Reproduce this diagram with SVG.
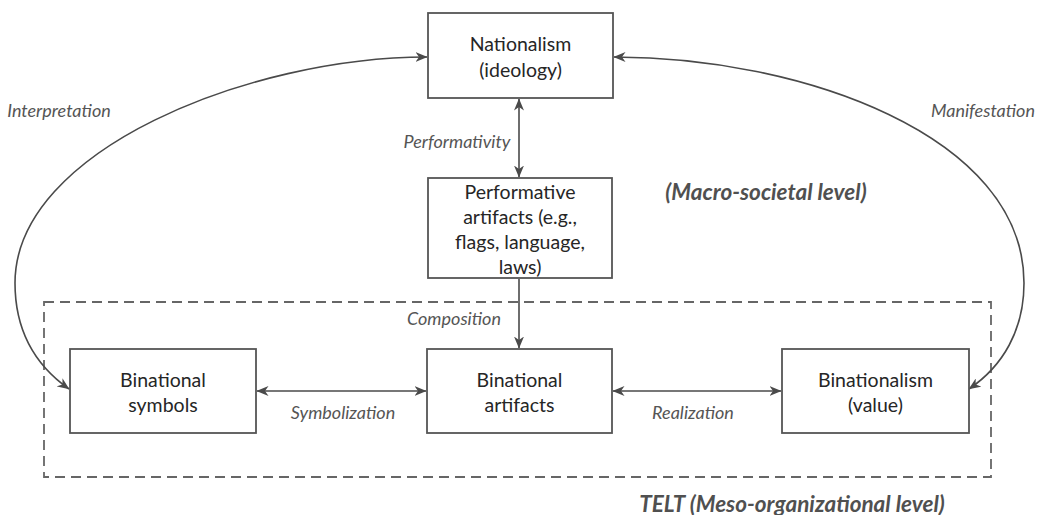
<svg xmlns="http://www.w3.org/2000/svg" width="1047" height="515" viewBox="0 0 1047 515">
<style>
.box{fill:#fff;stroke:#555;stroke-width:1.8}
.t{font-family:Lato,"Open Sans","Liberation Sans",sans-serif;font-size:19.5px;fill:#262626;text-anchor:middle}
.lab{font-family:Lato,"Open Sans","Liberation Sans",sans-serif;font-size:18px;font-style:italic;fill:#555;text-anchor:middle}
.lvl{font-family:Lato,"Open Sans","Liberation Sans",sans-serif;font-size:22.5px;font-style:italic;font-weight:bold;fill:#505050;text-anchor:middle}
.c{fill:none;stroke:#4a4a4a;stroke-width:1.6}
</style>
<defs>
<marker id="ah" viewBox="0 0 12 10" refX="11.5" refY="5" markerWidth="12" markerHeight="10" markerUnits="userSpaceOnUse" orient="auto-start-reverse">
<path d="M0,0 L12,5 L0,10 L3.5,5 z" fill="#4a4a4a"/>
</marker>
</defs>
<rect x="44" y="302" width="947" height="175" fill="none" stroke="#666" stroke-width="1.8" stroke-dasharray="10 6"/>
<g id="connectors">
<path class="c" d="M519,99 L519,177" marker-start="url(#ah)" marker-end="url(#ah)"/>
<path class="c" d="M519,279 L519,348" marker-end="url(#ah)"/>
<path class="c" d="M257,391 L426,391" marker-start="url(#ah)" marker-end="url(#ah)"/>
<path class="c" d="M613,391 L781,391" marker-start="url(#ah)" marker-end="url(#ah)"/>
<path class="c" d="M427,57 C250,57 15,150 15,283 C15,330 35,365 69,389" marker-start="url(#ah)" marker-end="url(#ah)"/>
<path class="c" d="M614,57 C800,57 1024,135 1024,283 C1024,330 1003,366 969,389" marker-start="url(#ah)" marker-end="url(#ah)"/>
</g>
<g id="nationalism">
<rect class="box" x="428" y="13" width="185" height="85"/>
<text class="t" x="520.5" y="51">Nationalism</text>
<text class="t" x="520.5" y="77">(ideology)</text>
</g>
<g id="performative">
<rect class="box" x="428" y="178" width="184" height="100"/>
<text class="t" x="520" y="199">Performative</text>
<text class="t" x="520" y="224">artifacts (e.g.,</text>
<text class="t" x="520" y="249">flags, language,</text>
<text class="t" x="520" y="274">laws)</text>
</g>
<g id="symbols">
<rect class="box" x="70" y="349" width="186" height="84"/>
<text class="t" x="163" y="387">Binational</text>
<text class="t" x="163" y="412">symbols</text>
</g>
<g id="artifacts">
<rect class="box" x="427" y="349" width="185" height="84"/>
<text class="t" x="519.5" y="387">Binational</text>
<text class="t" x="519.5" y="412">artifacts</text>
</g>
<g id="binationalism">
<rect class="box" x="782" y="349" width="187" height="84"/>
<text class="t" x="875.5" y="387">Binationalism</text>
<text class="t" x="875.5" y="412">(value)</text>
</g>
<g id="labels">
<text class="lab" x="59" y="117">Interpretation</text>
<text class="lab" x="983" y="117">Manifestation</text>
<text class="lab" x="457" y="148">Performativity</text>
<text class="lab" x="454" y="325">Composition</text>
<text class="lab" x="343" y="419">Symbolization</text>
<text class="lab" x="693" y="419">Realization</text>
<text class="lvl" x="766" y="200">(Macro-societal level)</text>
<text class="lvl" x="792" y="512">TELT (Meso-organizational level)</text>
</g>
</svg>
